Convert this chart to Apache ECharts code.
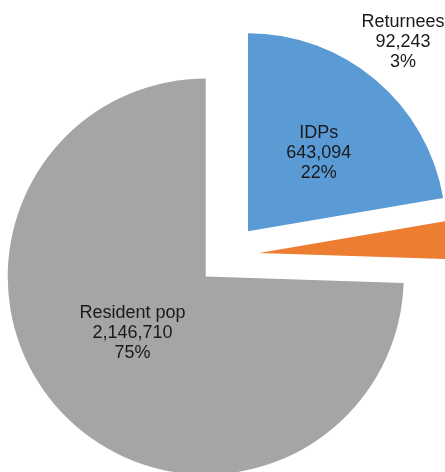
<!DOCTYPE html>
<html>
<head>
<meta charset="utf-8">
<script src="https://cdn.jsdelivr.net/npm/echarts@6/dist/echarts.min.js"></script>
<style>
  html, body { margin: 0; padding: 0; background: #fff; }
  #chart { width: 445px; height: 472px; }
</style>
</head>
<body>
<div id="chart"></div>
<script>
  // population groups (clockwise from 12 o'clock)
  var categories = ['IDPs', 'Returnees', 'Resident pop'];
  var populations = [643094, 92243, 2146710];
  var shares = ['22%', '3%', '75%'];
  var colors = ['#5B9BD5', '#ED7D31', '#A5A5A5'];

  var labelFont = 'Liberation Sans, Arial, sans-serif';

  function labelText(i) {
    return categories[i] + '\n' + populations[i].toLocaleString('en-US') + '\n' + shares[i];
  }

  var myChart = echarts.init(document.getElementById('chart'), null, { renderer: 'canvas' });

  var pieData = categories.map(function (name, i) {
    return {
      name: name,
      value: populations[i],
      selected: true,
      itemStyle: { color: colors[i] }
    };
  });
  // label tweaks so they sit where excel put them
  pieData[0].label = { padding: [0, 0, 0, 10] };
  pieData[1].label = { show: false };
  pieData[2].label = {
    formatter: function (p) {
      // empty tall line at the end lifts the block up a bit
      return labelText(p.dataIndex) + '\n{gap| }';
    }
  };

  myChart.setOption({
    animation: false,
    graphic: [
      {
        /* returnees label sits above the slices */
        type: 'text',
        x: 403,
        y: 12,
        style: {
          text: labelText(1),
          fill: '#1a1a1a',
          font: '18px ' + labelFont,
          lineHeight: 20,
          align: 'center'
        }
      }
    ],
    series: [
      {
        type: 'pie',
        center: [228, 255],
        radius: [0, 198],
        startAngle: 90,
        clockwise: true,
        selectedMode: 'multiple',
        selectedOffset: 31,
        avoidLabelOverlap: false,
        emphasis: { disabled: true },
        label: {
          show: true,
          position: 'inside',
          color: '#1a1a1a',
          fontFamily: labelFont,
          fontSize: 18,
          lineHeight: 20,
          align: 'center',
          rich: {
            gap: { lineHeight: 28, fontSize: 4 }
          },
          formatter: function (p) {
            return labelText(p.dataIndex);
          }
        },
        labelLine: { show: false },
        data: pieData
      }
    ]
  });
</script>
</body>
</html>
